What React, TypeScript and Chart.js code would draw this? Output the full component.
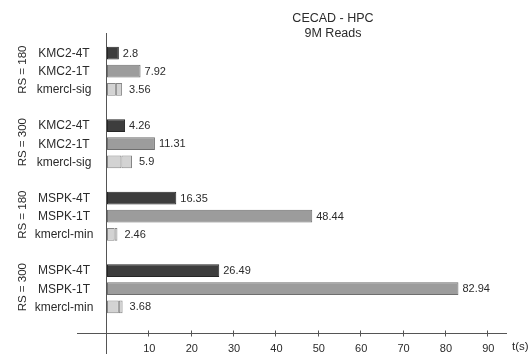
import React, { useEffect, useRef } from 'react';
import { Chart, registerables } from 'chart.js';

Chart.register(...registerables);

// Row labels: three bars per group followed by an empty spacer row.
const rowLabels = [
  'KMC2-4T', 'KMC2-1T', 'kmercl-sig', '',
  'KMC2-4T', 'KMC2-1T', 'kmercl-sig', '',
  'MSPK-4T', 'MSPK-1T', 'kmercl-min', '',
  'MSPK-4T', 'MSPK-1T', 'kmercl-min', '',
];
const groupLabels = ['RS = 180', 'RS = 300', 'RS = 180', 'RS = 300'];

// Run times in seconds, one value per group.
const fourThreadTimes = [2.8, 4.26, 16.35, 26.49];
const oneThreadTimes = [7.92, 11.31, 48.44, 82.94];
const kmerclTotals = [3.56, 5.9, 2.46, 3.68];
const kmerclFirstStage = [2.1, 3.4, 1.8, 2.8];

const xTickValues = [10, 20, 30, 40, 50, 60, 70, 80, 90];
const xAxisMax = 94.4;
const xUnitLabel = 't(s)';
const titleLines = ['CECAD - HPC', '9M Reads'];

const ROWS_PER_GROUP = 4;
const FONT = '"Liberation Sans", Arial, Helvetica, sans-serif';
const TEXT_COLOR = '#2b2b2b';
const AXIS_COLOR = '#555555';

function spread(values: number[], slot: number): (number | null)[] {
  const out: (number | null)[] = rowLabels.map(() => null);
  values.forEach((v, g) => {
    out[g * ROWS_PER_GROUP + slot] = v;
  });
  return out;
}

const kmerclSecondStage = kmerclTotals.map((t, i) => +(t - kmerclFirstStage[i]).toFixed(2));

const decorations = {
  id: 'decorations',
  beforeDatasetsDraw(chart: any) {
    const { ctx, chartArea } = chart;
    const x = chart.scales.x;
    ctx.save();
    ctx.strokeStyle = AXIS_COLOR;
    ctx.lineWidth = 1;
    // vertical axis through zero
    const x0 = Math.round(x.getPixelForValue(0)) - 0.5;
    ctx.beginPath();
    ctx.moveTo(x0, chartArea.top - 11);
    ctx.lineTo(x0, chart.height);
    ctx.stroke();
    // horizontal time axis
    const yAxis = Math.round(chartArea.bottom) - 0.5;
    ctx.beginPath();
    ctx.moveTo(chartArea.left - 30, yAxis);
    ctx.lineTo(chartArea.right, yAxis);
    ctx.stroke();
    xTickValues.forEach((v) => {
      const px = Math.round(x.getPixelForValue(v)) - 0.5;
      ctx.beginPath();
      ctx.moveTo(px, yAxis - 3);
      ctx.lineTo(px, yAxis + 3);
      ctx.stroke();
    });
    ctx.restore();
  },
  afterDatasetsDraw(chart: any) {
    const { ctx, chartArea } = chart;
    const x = chart.scales.x;
    const y = chart.scales.y;
    ctx.save();
    ctx.fillStyle = TEXT_COLOR;
    ctx.textBaseline = 'middle';

    // row labels, centred in the left margin
    ctx.font = `12px ${FONT}`;
    ctx.textAlign = 'center';
    rowLabels.forEach((label, i) => {
      if (!label) return;
      ctx.fillText(label, 64, y.getPixelForValue(i) + 0.5);
    });

    // value labels at the end of each bar
    ctx.font = `11px ${FONT}`;
    ctx.textAlign = 'left';
    const rows: [number[], number, number][] = [
      [fourThreadTimes, 0, 4],
      [oneThreadTimes, 1, 4],
      [kmerclTotals, 2, 7],
    ];
    rows.forEach(([vals, slot, gap]) => {
      vals.forEach((v, g) => {
        const py = y.getPixelForValue(g * ROWS_PER_GROUP + slot);
        ctx.fillText(String(v), x.getPixelForValue(v) + gap, py + 0.5);
      });
    });

    // rotated group labels
    ctx.font = `11.5px ${FONT}`;
    ctx.textAlign = 'center';
    groupLabels.forEach((label, g) => {
      const py = y.getPixelForValue(g * ROWS_PER_GROUP + 1);
      ctx.save();
      ctx.translate(23, py - 1.5);
      ctx.rotate(-Math.PI / 2);
      ctx.fillText(label, 0, 0);
      ctx.restore();
    });

    // title
    ctx.font = `12.5px ${FONT}`;
    ctx.textAlign = 'center';
    titleLines.forEach((line, i) => {
      ctx.fillText(line, 333, 19 + i * 15);
    });

    // axis unit
    ctx.font = `11.5px ${FONT}`;
    ctx.textAlign = 'left';
    ctx.fillText(xUnitLabel, chartArea.right + 5, chartArea.bottom + 13);
    ctx.restore();
  },
};

export default function App() {
  const canvasRef = useRef<HTMLCanvasElement | null>(null);

  useEffect(() => {
    if (!canvasRef.current) return;
    const barStyle = { borderWidth: 1, borderSkipped: false };
    const chart = new Chart(canvasRef.current, {
      type: 'bar',
      data: {
        labels: rowLabels,
        datasets: [
          {
            label: '4 threads',
            data: spread(fourThreadTimes, 0),
            backgroundColor: '#3d3d3d',
            borderColor: '#262626',
            ...barStyle,
          },
          {
            label: '1 thread',
            data: spread(oneThreadTimes, 1),
            backgroundColor: '#9c9c9c',
            borderColor: '#6e6e6e',
            ...barStyle,
          },
          {
            label: 'kmercl stage 1',
            data: spread(kmerclFirstStage, 2),
            backgroundColor: '#d3d3d3',
            borderColor: '#858585',
            ...barStyle,
          },
          {
            label: 'kmercl stage 2',
            data: spread(kmerclSecondStage, 2),
            backgroundColor: '#d3d3d3',
            borderColor: '#858585',
            ...barStyle,
          },
        ],
      },
      options: {
        indexAxis: 'y',
        responsive: false,
        animation: false,
        devicePixelRatio: 1,
        datasets: {
          bar: { barPercentage: 0.7, categoryPercentage: 1 },
        },
        layout: { padding: { top: 44, right: 23, bottom: 0, left: 107 } },
        plugins: {
          legend: { display: false },
          tooltip: { enabled: false },
          title: { display: false },
        },
        scales: {
          x: {
            type: 'linear',
            min: 0,
            max: xAxisMax,
            stacked: true,
            grid: { display: false, drawTicks: false },
            border: { display: false },
            afterBuildTicks: (axis: any) => {
              axis.ticks = xTickValues.map((v) => ({ value: v }));
            },
            afterFit: (axis: any) => {
              axis.height = 20;
            },
            ticks: {
              color: TEXT_COLOR,
              font: { family: FONT, size: 11 },
              padding: 8,
              maxRotation: 0,
              autoSkip: false,
            },
          },
          y: {
            type: 'category',
            stacked: true,
            display: false,
          },
        },
      },
      plugins: [decorations],
    } as any);
    return () => chart.destroy();
  }, []);

  return (
    <div style={{ position: 'fixed', left: 0, top: 0, width: 530, height: 354, background: '#fff' }}>
      <canvas ref={canvasRef} width={530} height={354} />
    </div>
  );
}
